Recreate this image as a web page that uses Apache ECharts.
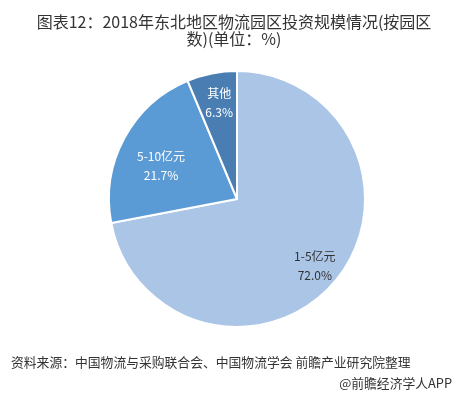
<!DOCTYPE html>
<html><head><meta charset="utf-8">
<script src="https://cdn.jsdelivr.net/npm/echarts@6/dist/echarts.min.js"></script>
<style>html,body{margin:0;padding:0;background:#fff}#c{width:460px;height:396px}</style>
</head><body><div id="c"></div>
<script>
const categories = ['1-5亿元', '5-10亿元', '其他'];
const values = [72.0, 21.7, 6.3];
const colors = ['#abc5e6', '#5b9bd5', '#4a7eb3'];
const labelColors = ['#333333', '#ffffff', '#ffffff'];
const FONT = '"Noto Sans CJK SC", "Noto Sans", sans-serif';

const chart = echarts.init(document.getElementById('c'));
const baseData = categories.map((c, i) => ({ name: c, value: values[i], itemStyle: { color: colors[i] } }));
const labelData = categories.map((c, i) => ({
  name: c, value: values[i],
  label: { color: labelColors[i] }
}));
chart.setOption({
  animation: false,
  title: [{
    text: '图表12：2018年东北地区物流园区投资规模情况(按园区\n数)(单位：%)',
    left: 229, top: 8,
    textAlign: 'center',
    textStyle: { fontFamily: FONT, fontSize: 16, fontWeight: 'normal', color: '#333', lineHeight: 17, align: 'center' }
  }, {
    text: '资料来源：中国物流与采购联合会、中国物流学会 前瞻产业研究院整理',
    left: 6, top: 351,
    textStyle: { fontFamily: FONT, fontSize: 12.8, fontWeight: 'normal', color: '#333' }
  }, {
    text: '@前瞻经济学人APP',
    right: 3, top: 372,
    textStyle: { fontFamily: FONT, fontSize: 12.8, fontWeight: 'normal', color: '#333' }
  }],
  series: [{
    type: 'pie',
    center: [237, 199],
    radius: [0, 128],
    startAngle: 90,
    clockwise: true,
    silent: true,
    label: { show: false },
    labelLine: { show: false },
    itemStyle: { borderColor: '#fff', borderWidth: 2 },
    data: baseData
  }, {
    type: 'pie',
    center: [237, 199],
    radius: [66, 130],
    startAngle: 90,
    clockwise: true,
    silent: true,
    itemStyle: { color: 'rgba(0,0,0,0)' },
    label: {
      show: true, position: 'inside',
      fontFamily: FONT, fontSize: 12, lineHeight: 19,
      formatter: p => p.name + '\n' + p.value.toFixed(1) + '%'
    },
    labelLayout: p => (p.dataIndex === 1 ? { dx: 13, dy: 15 } : (p.dataIndex === 2 ? { dx: 2, dy: 3 } : { dy: 3 })),
    labelLine: { show: false },
    data: labelData
  }]
});
</script></body></html>
